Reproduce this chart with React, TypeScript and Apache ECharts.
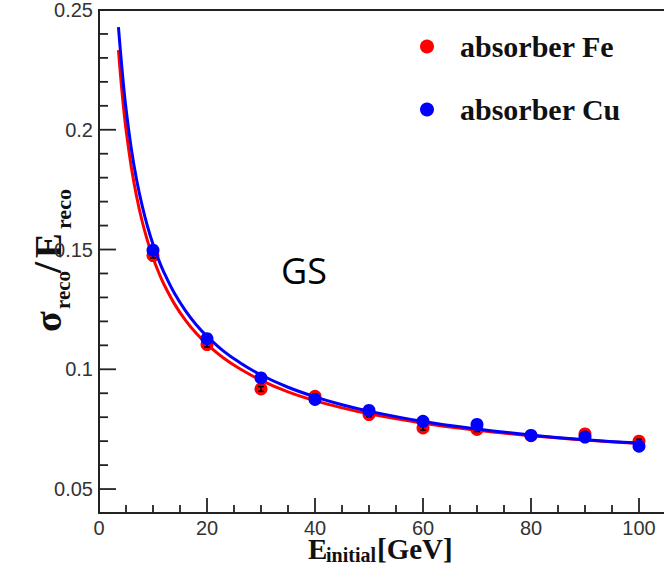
import React, { useEffect, useRef } from 'react';
import * as echarts from 'echarts';

// Measured points (E_initial in GeV)
const ENERGY = [10, 20, 30, 40, 50, 60, 70, 80, 90, 100];
const FE_RES = [0.1475, 0.1103, 0.0918, 0.0887, 0.0811, 0.0755, 0.0749, 0.0723, 0.0730, 0.0700];
const CU_RES = [0.1497, 0.1128, 0.0964, 0.0874, 0.0828, 0.0783, 0.0770, 0.0724, 0.0717, 0.0679];
const FE_ERR = [0.0010, 0.0010, 0.0010, 0.0009, 0.0009, 0.0009, 0.0009, 0.0008, 0.0008, 0.0008];

// Fit curves
const FIT_ENERGY = [3.6, 4, 4.5, 5, 6, 7, 8, 9, 10, 11, 12, 14, 16, 18, 20, 23, 26, 30, 35, 40, 45, 50, 60, 70, 80, 90, 100];
const FE_FIT = [0.2332, 0.2223, 0.2103, 0.2002, 0.1841, 0.1717, 0.1617, 0.1535, 0.1466, 0.1407, 0.1356, 0.1272, 0.1205, 0.1150, 0.1105, 0.1048, 0.1003, 0.0954, 0.0906, 0.0869, 0.0839, 0.0814, 0.0775, 0.0745, 0.0723, 0.0705, 0.0690];
const CU_FIT = [0.2428, 0.2321, 0.2195, 0.2089, 0.1919, 0.1787, 0.1682, 0.1595, 0.1522, 0.1460, 0.1406, 0.1316, 0.1245, 0.1186, 0.1138, 0.1077, 0.1029, 0.0976, 0.0925, 0.0885, 0.0852, 0.0825, 0.0782, 0.0751, 0.0726, 0.0706, 0.0692];

// Axis ranges and ticks
const X_MIN = 0;
const X_MAX = 105;
const Y_MIN = 0.04;
const Y_MAX = 0.25;
const X_MAJOR = [0, 20, 40, 60, 80, 100];
const X_MINOR = [5, 10, 15, 25, 30, 35, 45, 50, 55, 65, 70, 75, 85, 90, 95];
const Y_MAJOR = [0.05, 0.1, 0.15, 0.2, 0.25];
const Y_MINOR = [0.06, 0.07, 0.08, 0.09, 0.11, 0.12, 0.13, 0.14, 0.16, 0.17, 0.18, 0.19, 0.21, 0.22, 0.23, 0.24];

const SERIES_NAMES = ['absorber Fe', 'absorber Cu'];

const AXIS_COLOR = '#222222';
const LABEL_FONT = '"Liberation Sans", Arial, Helvetica, sans-serif';
const SERIF = '"Liberation Serif", "Times New Roman", serif';

export default function App() {
  const ref = useRef<HTMLDivElement>(null);

  useEffect(() => {
    const chart = echarts.init(ref.current!, null, { renderer: 'svg' });
    const errStyle = { stroke: '#000000', lineWidth: 1.5 };

    // tick marks: [x, y, direction (0 = on x axis, 1 = on y axis), major flag]
    const tickData = [
      ...X_MAJOR.map((v) => [v, Y_MIN, 0, 1]),
      ...X_MINOR.map((v) => [v, Y_MIN, 0, 0]),
      ...Y_MAJOR.map((v) => [X_MIN, v, 1, 1]),
      ...Y_MINOR.map((v) => [X_MIN, v, 1, 0]),
    ];

    const option: any = {
      animation: false,
      backgroundColor: '#ffffff',
      grid: {
        left: 99,
        top: 9,
        right: 14,
        bottom: 53,
        show: true,
        borderColor: AXIS_COLOR,
        borderWidth: 2,
        backgroundColor: 'transparent',
        containLabel: false,
      },
      legend: {
        data: SERIES_NAMES,
        orient: 'vertical',
        left: 420,
        top: 27,
        padding: 0,
        itemGap: 24,
        icon: 'circle',
        itemWidth: 14,
        itemHeight: 14,
        selectedMode: false,
        textStyle: {
          fontFamily: SERIF,
          fontWeight: 'bold',
          fontSize: 30,
          color: '#111111',
          lineHeight: 30,
          padding: [9, 0, 0, 21],
        },
      },
      xAxis: {
        type: 'value',
        min: X_MIN,
        max: X_MAX,
        position: 'bottom',
        axisLine: { show: true, onZero: false, lineStyle: { color: AXIS_COLOR, width: 2 } },
        axisTick: { show: false },
        axisLabel: {
          customValues: X_MAJOR,
          fontFamily: LABEL_FONT,
          fontSize: 20,
          color: '#333333',
          margin: 5,
        },
        splitLine: { show: false },
      },
      yAxis: {
        type: 'value',
        min: Y_MIN,
        max: Y_MAX,
        position: 'left',
        axisLine: { show: true, onZero: false, lineStyle: { color: AXIS_COLOR, width: 2 } },
        axisTick: { show: false },
        axisLabel: {
          customValues: Y_MAJOR,
          formatter: (v: number) => String(Math.round(v * 100) / 100),
          fontFamily: LABEL_FONT,
          fontSize: 20,
          color: '#333333',
          margin: 6,
        },
        splitLine: { show: false },
      },
      series: [
        {
          name: 'fit Fe',
          type: 'line',
          data: FIT_ENERGY.map((e, i) => [e, FE_FIT[i]]),
          showSymbol: false,
          symbol: 'none',
          smooth: 0.4,
          lineStyle: { color: '#ff0000', width: 3 },
          z: 2,
          silent: true,
        },
        {
          name: SERIES_NAMES[0],
          type: 'scatter',
          data: ENERGY.map((e, i) => [e, FE_RES[i]]),
          symbol: 'circle',
          symbolSize: 13,
          itemStyle: { color: '#ff0000', opacity: 1 },
          z: 3,
        },
        {
          name: 'err Fe',
          type: 'custom',
          data: ENERGY.map((e, i) => [e, FE_RES[i], FE_ERR[i]]),
          encode: { x: 0, y: 1 },
          silent: true,
          z: 4,
          renderItem: (params: any, api: any) => {
            const x = api.value(0);
            const y = api.value(1);
            const d = api.value(2);
            const hi = api.coord([x, y + d]);
            const lo = api.coord([x, y - d]);
            const w = 3;
            return {
              type: 'group',
              children: [
                { type: 'line', shape: { x1: hi[0], y1: hi[1], x2: lo[0], y2: lo[1] }, style: errStyle },
                { type: 'line', shape: { x1: hi[0] - w, y1: hi[1], x2: hi[0] + w, y2: hi[1] }, style: errStyle },
                { type: 'line', shape: { x1: lo[0] - w, y1: lo[1], x2: lo[0] + w, y2: lo[1] }, style: errStyle },
              ],
            };
          },
        },
        {
          name: 'fit Cu',
          type: 'line',
          data: FIT_ENERGY.map((e, i) => [e, CU_FIT[i]]),
          showSymbol: false,
          symbol: 'none',
          smooth: 0.4,
          lineStyle: { color: '#0000ff', width: 3 },
          z: 5,
          silent: true,
        },
        {
          name: SERIES_NAMES[1],
          type: 'scatter',
          data: ENERGY.map((e, i) => [e, CU_RES[i]]),
          symbol: 'circle',
          symbolSize: 13,
          itemStyle: { color: '#0000ff', opacity: 1 },
          z: 6,
        },
        {
          name: 'ticks',
          type: 'custom',
          data: tickData,
          encode: { x: 0, y: 1 },
          silent: true,
          clip: false,
          z: 10,
          renderItem: (params: any, api: any) => {
            const p = api.coord([api.value(0), api.value(1)]);
            const onY = api.value(2) === 1;
            const major = api.value(3) === 1;
            const len = onY ? (major ? 17 : 9) : (major ? 15 : 8);
            const shape = onY
              ? { x1: p[0], y1: p[1], x2: p[0] + len, y2: p[1] }
              : { x1: p[0], y1: p[1], x2: p[0], y2: p[1] - len };
            return { type: 'line', shape, style: { stroke: AXIS_COLOR, lineWidth: 1.8 } };
          },
        },
      ],
      graphic: [
        // x axis title: E_initial[GeV]
        {
          type: 'text', x: 308, y: 549, silent: true,
          style: { text: 'E', fontFamily: SERIF, fontWeight: 'bold', fontSize: 29, fill: '#111111', verticalAlign: 'middle' },
        },
        {
          type: 'text', x: 326, y: 555, silent: true,
          style: { text: 'initial', fontFamily: SERIF, fontWeight: 'bold', fontSize: 20, fill: '#111111', verticalAlign: 'middle' },
        },
        {
          type: 'text', x: 377, y: 549, silent: true,
          style: { text: '[GeV]', fontFamily: SERIF, fontWeight: 'bold', fontSize: 29, fill: '#111111', verticalAlign: 'middle' },
        },
        // y axis title: sigma_reco / E_reco (rotated)
        {
          type: 'group', x: 0, y: 332, rotation: Math.PI / 2, silent: true,
          children: [
            { type: 'text', x: 0, y: 48, style: { text: 'σ', fontFamily: SERIF, fontWeight: 'bold', fontSize: 38, fill: '#111111', verticalAlign: 'middle' } },
            { type: 'text', x: 23, y: 63, style: { text: 'reco', fontFamily: SERIF, fontWeight: 'bold', fontSize: 21, fill: '#111111', verticalAlign: 'middle' } },
            { type: 'text', x: 59, y: 47, style: { text: '/', fontFamily: SERIF, fontWeight: 'bold', fontSize: 40, fill: '#111111', verticalAlign: 'middle' } },
            { type: 'text', x: 74, y: 48, style: { text: 'E', fontFamily: SERIF, fontWeight: 'bold', fontSize: 37, fill: '#111111', verticalAlign: 'middle' } },
            { type: 'text', x: 103, y: 63, style: { text: 'reco', fontFamily: SERIF, fontWeight: 'bold', fontSize: 22, fill: '#111111', verticalAlign: 'middle' } },
          ],
        },
        // GS annotation
        {
          type: 'text', x: 281, y: 270, silent: true,
          style: { text: 'GS', fontFamily: '"Open Sans", "Noto Sans", sans-serif', fontSize: 36, fill: '#000000', verticalAlign: 'middle' },
        },
      ],
    };

    chart.setOption(option);
    return () => chart.dispose();
  }, []);

  return (
    <div style={{ position: 'fixed', left: 0, top: 0, width: 664, height: 566, overflow: 'hidden', background: '#fff' }}>
      <div ref={ref} style={{ width: 680, height: 566 }} />
    </div>
  );
}
